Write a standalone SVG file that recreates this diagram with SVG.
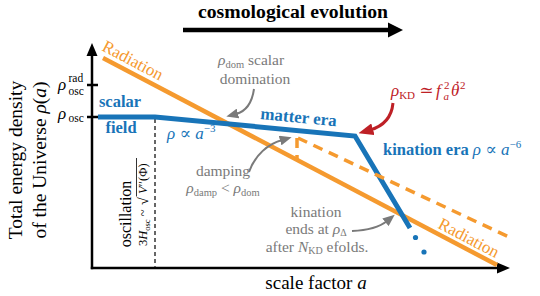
<svg xmlns="http://www.w3.org/2000/svg" width="540" height="296" viewBox="0 0 540 296">
<defs>
<style>
text{font-family:"Liberation Serif","DejaVu Serif",serif;}
.grey{fill:#7a7a7a;font-size:15.5px}
.blue{fill:#1874b8}
.red{fill:#be2026}
.b{font-weight:bold}
.i{font-style:italic}
.ax{stroke:#000;stroke-width:2.5;fill:none}
.rad{stroke:#f59a2f;stroke-width:4.5;fill:none}
.sf{stroke:#1874b8;stroke-width:5;fill:none;stroke-linejoin:miter}
.dash{stroke:#f59a2f;stroke-width:3.5;fill:none;stroke-dasharray:10 7}
.gdash{stroke:#666;stroke-width:2;fill:none;stroke-dasharray:4 3}
.garr{stroke:#7a7a7a;stroke-width:2;fill:none}
.rarr{stroke:#be2026;stroke-width:3;fill:none}
</style>
<marker id="gh" markerUnits="userSpaceOnUse" markerWidth="12" markerHeight="10" refX="2" refY="5" orient="auto" viewBox="0 0 12 10"><path d="M0,0 L12,5 L0,10 Z" fill="#7a7a7a"/></marker>
<marker id="rh" markerUnits="userSpaceOnUse" markerWidth="15" markerHeight="12" refX="3" refY="6" orient="auto" viewBox="0 0 15 12"><path d="M0,0 L15,6 L0,12 Z" fill="#be2026"/></marker>
</defs>

<g id="title">
<text x="293" y="18" class="b" font-size="18.5" text-anchor="middle" textLength="190" lengthAdjust="spacingAndGlyphs">cosmological evolution</text>
<line x1="183" y1="30" x2="390" y2="30" stroke="#000" stroke-width="4.5"/>
<polygon points="403,30 388,22.5 388,37.5" fill="#000"/>
</g>

<g id="axes">
<line class="ax" x1="92" y1="269.2" x2="92" y2="53"/>
<polygon points="92,43 86.5,56 97.5,56" fill="#000"/>
<line class="ax" x1="90.8" y1="268" x2="499" y2="268"/>
<polygon points="510,268 497,262.5 497,273.5" fill="#000"/>
<line class="ax" x1="87" y1="85" x2="98" y2="85"/>
<line class="ax" x1="87" y1="117" x2="98" y2="117"/>
<text x="58" y="90" font-size="17"><tspan class="i">ρ</tspan></text>
<text x="68.5" y="81.5" font-size="11.5">rad</text>
<text x="68.5" y="94.5" font-size="11.5">osc</text>
<text x="58" y="119" font-size="17"><tspan class="i">ρ</tspan></text>
<text x="68.5" y="122" font-size="11.5">osc</text>
<text transform="translate(22,160) rotate(-90)" font-size="19.5" text-anchor="middle">Total energy density</text>
<text transform="translate(46,160) rotate(-90)" font-size="19.5" text-anchor="middle">of the Universe <tspan class="i">ρ</tspan>(<tspan class="i">a</tspan>)</text>
<text x="316" y="289" font-size="19" text-anchor="middle">scale factor <tspan class="i">a</tspan></text>
</g>

<g id="oscillation">
<line class="gdash" x1="155" y1="119" x2="155" y2="267"/>
<text transform="translate(131,214) rotate(-90)" font-size="16" text-anchor="middle">oscillation</text>
<g transform="translate(147,201) rotate(-90)">
<text x="-45" y="0" font-size="12.5">3<tspan class="i">H</tspan><tspan font-size="8.5" dy="2.5">osc</tspan><tspan dy="-2.5"> ~ </tspan></text>
<text x="-4" y="1" font-size="14">√</text>
<line x1="4.5" y1="-10.5" x2="43" y2="-10.5" stroke="#000" stroke-width="0.8"/>
<text x="7" y="0" font-size="12.5"><tspan class="i">V</tspan>′′(Φ)</text>
</g>
</g>

<g id="connectors">
<line class="rad" x1="103" y1="58" x2="497" y2="265"/>
<polyline class="sf" points="98,117 155,117 355,136 410,228"/>
<circle cx="415.5" cy="237.5" r="2.6" fill="#1874b8"/>
<circle cx="424" cy="252" r="2.6" fill="#1874b8"/>
<line class="dash" x1="297" y1="138" x2="297" y2="160" stroke-dasharray="7 5"/>
<line class="dash" x1="298" y1="138" x2="511" y2="238"/>
<path class="garr" d="M254,89 Q251,110 236,114" marker-end="url(#gh)"/>
<path class="garr" d="M249,172 C255,155 268,144 282,140" marker-end="url(#gh)"/>
<path class="garr" d="M352,231 Q376,230 387,221" marker-end="url(#gh)"/>
<path class="rarr" d="M393,103 Q391,124 370,130" marker-end="url(#rh)"/>
</g>

<g id="radiation">
<text transform="translate(101,50) rotate(27.7)" font-size="17" fill="#f59a2f">Radiation</text>
<text transform="translate(437,227.5) rotate(27.7)" font-size="17" fill="#f59a2f">Radiation</text>
</g>

<g id="scalar-field">
<text x="120" y="107" class="blue b" font-size="16.5" text-anchor="middle">scalar</text>
<text x="121" y="133" class="blue b" font-size="16.5" text-anchor="middle">field</text>
<text x="167" y="139" class="blue" font-size="17"><tspan class="i">ρ</tspan> ∝ <tspan class="i">a</tspan><tspan font-size="11" dy="-7">−3</tspan></text>
</g>

<g id="matter-era">
<text transform="translate(260,119) rotate(5.5)" class="blue b" font-size="17">matter era</text>
</g>

<g id="domination">
<text x="218" y="65" class="grey"><tspan class="i">ρ</tspan><tspan font-size="10.5" dy="2.5">dom</tspan><tspan dy="-2.5"> scalar</tspan></text>
<text x="255" y="84" class="grey" text-anchor="middle">domination</text>
</g>

<g id="kd">
<text x="391" y="96" class="red" font-size="17"><tspan class="i">ρ</tspan><tspan font-size="11" dy="3">KD</tspan><tspan dy="-3"> ≃ </tspan></text>
<text x="436" y="96" class="red i" font-size="17">f</text>
<text x="444" y="89" class="red" font-size="11">2</text>
<text x="443.5" y="100" class="red i" font-size="11">a</text>
<text x="451" y="96" class="red i" font-size="17">θ</text>
<circle cx="457.5" cy="82.5" r="1.1" fill="#be2026"/>
<text x="460" y="89" class="red" font-size="11">2</text>
</g>

<g id="kination-era">
<text x="383" y="155" class="blue" font-size="16.5"><tspan class="b">kination era</tspan> <tspan class="i" font-size="17">ρ</tspan><tspan font-size="17"> ∝ </tspan><tspan class="i" font-size="17">a</tspan><tspan font-size="11" dy="-7">−6</tspan></text>
</g>

<g id="damping">
<text x="223" y="176" class="grey" text-anchor="middle">damping</text>
<text x="223" y="193" class="grey" text-anchor="middle"><tspan class="i">ρ</tspan><tspan font-size="10.5" dy="3">damp</tspan><tspan dy="-3"> &lt; </tspan><tspan class="i">ρ</tspan><tspan font-size="10.5" dy="3">dom</tspan></text>
</g>

<g id="kination-end">
<text x="316" y="216.5" class="grey" text-anchor="middle">kination</text>
<text x="316" y="233.5" class="grey" text-anchor="middle">ends at <tspan class="i">ρ</tspan><tspan font-size="10" dy="2">Δ</tspan></text>
<text x="317" y="251.5" class="grey" text-anchor="middle">after <tspan class="i">N</tspan><tspan font-size="10" dy="2.5">KD</tspan><tspan dy="-2.5"> efolds.</tspan></text>
</g>
</svg>
